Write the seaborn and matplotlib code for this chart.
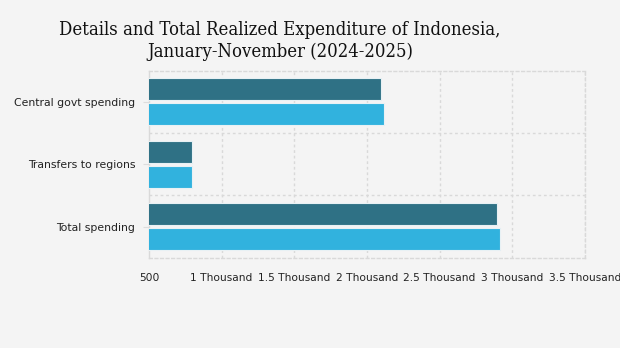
import matplotlib
matplotlib.use("Agg")
import matplotlib.pyplot as plt
import seaborn as sns
import pandas as pd

# Realized expenditure, January-November (trillion rupiah)
categories = ["Central govt spending", "Transfers to regions", "Total spending"]
years = ["2024", "2025"]
values_2024 = [2098, 798, 2896]
values_2025 = [2116, 796, 2912]
tick_values = [500, 1000, 1500, 2000, 2500, 3000, 3500]
tick_labels = ["500", "1 Thousand", "1.5 Thousand", "2 Thousand",
               "2.5 Thousand", "3 Thousand", "3.5 Thousand"]
title = "Details and Total Realized Expenditure of Indonesia,\nJanuary-November (2024-2025)"

df = pd.DataFrame({
    "category": categories * 2,
    "year": [years[0]] * 3 + [years[1]] * 3,
    "value": values_2024 + values_2025,
})

bg = "#f4f4f4"
sns.set_theme(style="white")
plt.rcParams["font.family"] = ["DejaVu Sans"]

fig = plt.figure(figsize=(6.2, 3.48), dpi=100, facecolor=bg)
ax = fig.add_axes([149 / 620, 1 - 257.7 / 348, (585 - 149) / 620, (257.7 - 70.7) / 348])
ax.set_facecolor(bg)

sns.barplot(data=df, y="category", x="value", hue="year", orient="h",
            palette=["#2f7185", "#31b2de"], saturation=1, width=0.8, gap=0.12,
            edgecolor="#e8f1f4", linewidth=0.8, legend=False, ax=ax, zorder=3)

ax.set_xlim(500, 3500)
ax.set_ylim(2.5, -0.5)
ax.set_xticks(tick_values)
ax.set_xticklabels(tick_labels, fontsize=7.7, color="#222222")
ax.tick_params(axis="x", length=0, pad=11)
ax.tick_params(axis="y", length=4, width=0.8, color="#dddddd", pad=6,
               labelsize=7.8, labelcolor="#222222", left=True)
ax.set_xlabel("")
ax.set_ylabel("")

grid_kw = dict(color="#d9d9d9", linestyle=(0, (2, 2)), linewidth=1.0, zorder=1)
for v in tick_values[1:]:
    ax.axvline(v, **grid_kw)
for b in [0.5, 1.5]:
    ax.axhline(b, **grid_kw)

for side, sp in ax.spines.items():
    sp.set_visible(True)
    sp.set_color("#d9d9d9")
    sp.set_linewidth(1.0)
    sp.set_linestyle((0, (2, 2)))
ax.spines["left"].set_linestyle("-")

fig.text(280 / 620, 1 - 41 / 348, title, ha="center", va="center",
         fontsize=13.2, family=["DejaVu Serif"], fontstretch="condensed",
         color="#111111", linespacing=1.3)

fig.savefig("out.png", dpi=100, facecolor=bg)
